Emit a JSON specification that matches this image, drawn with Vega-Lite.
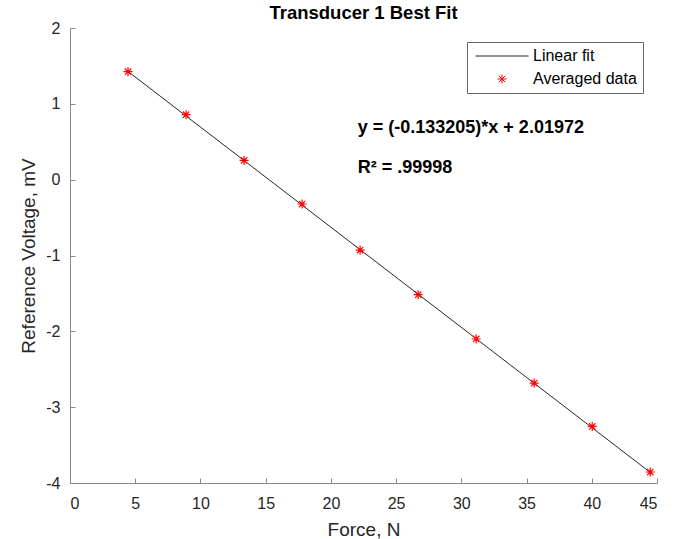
{
  "$schema": "https://vega.github.io/schema/vega-lite/v6.json",
  "width": 587,
  "height": 455,
  "autosize": "none",
  "padding": {"left": 70, "top": 28, "right": 16, "bottom": 56},
  "background": "white",
  "config": {
    "view": {"stroke": null},
    "font": "Liberation Sans",
    "axis": {
      "domainColor": "#888888",
      "domainWidth": 1,
      "tickColor": "#888888",
      "tickSize": -5,
      "labelColor": "#262626",
      "labelFontSize": 16,
      "labelFont": "Liberation Sans",
      "titleFont": "Liberation Sans",
      "titleFontSize": 19,
      "titleFontWeight": "normal",
      "titleColor": "#262626",
      "grid": false
    }
  },
  "title": {
    "text": "Transducer 1 Best Fit",
    "font": "Liberation Sans",
    "fontSize": 18.5,
    "fontWeight": "bold",
    "color": "#000000",
    "offset": -2
  },
  "datasets": {
    "avg": [
      {"force": 4.448, "voltage": 1.424, "series": "Averaged data"},
      {"force": 8.896, "voltage": 0.857, "series": "Averaged data"},
      {"force": 13.345, "voltage": 0.254, "series": "Averaged data"},
      {"force": 17.793, "voltage": -0.321, "series": "Averaged data"},
      {"force": 22.241, "voltage": -0.928, "series": "Averaged data"},
      {"force": 26.689, "voltage": -1.517, "series": "Averaged data"},
      {"force": 31.138, "voltage": -2.101, "series": "Averaged data"},
      {"force": 35.586, "voltage": -2.682, "series": "Averaged data"},
      {"force": 40.034, "voltage": -3.254, "series": "Averaged data"},
      {"force": 44.482, "voltage": -3.855, "series": "Averaged data"}
    ],
    "fit": [
      {"force": 4.448, "voltage": 1.427, "series": "Linear fit"},
      {"force": 44.482, "voltage": -3.86, "series": "Linear fit"}
    ],
    "notes": [
      {"force": 22.06, "voltage": 0.685, "label": "y = (-0.133205)*x + 2.01972"},
      {"force": 22.06, "voltage": 0.158, "label": "R² = .99998"}
    ]
  },
  "encoding": {
    "x": {
      "field": "force",
      "type": "quantitative",
      "scale": {"domain": [0, 45], "nice": false, "zero": false},
      "axis": {"title": "Force, N", "values": [0, 5, 10, 15, 20, 25, 30, 35, 40, 45], "labelPadding": 17, "titlePadding": 9}
    },
    "y": {
      "field": "voltage",
      "type": "quantitative",
      "scale": {"domain": [-4, 2], "nice": false, "zero": false},
      "axis": {"title": "Reference Voltage, mV", "values": [-4, -3, -2, -1, 0, 1, 2], "labelExpr": "datum.value + ''", "labelPadding": 15, "titlePadding": 7}
    }
  },
  "layer": [
    {
      "data": {"name": "fit"},
      "mark": {"type": "line", "strokeWidth": 1},
      "encoding": {
        "color": {
          "field": "series",
          "type": "nominal",
          "scale": {"domain": ["Linear fit", "Averaged data"], "range": ["#262626", "#ff0000"]},
          "legend": {
            "title": null,
            "orient": "none",
            "legendX": 397,
            "legendY": 14,
            "direction": "vertical",
            "fillColor": "white",
            "strokeColor": "#666666",
            "padding": 6,
            "labelFont": "Liberation Sans",
            "labelFontSize": 16,
            "labelColor": "#000000",
            "symbolSize": 100,
            "symbolOffset": 21,
            "labelOffset": 23,
            "rowPadding": 7,
            "symbolStrokeWidth": 1,
            "symbolFillColor": "transparent",
            "encode": {
              "symbols": {
                "update": {
                  "shape": [
                    {"test": "datum.value === 'Linear fit'", "value": "M-5.3,0L5.3,0"},
                    {"value": "M0,-0.9L0,0.9M-0.9,0L0.9,0M-0.64,-0.64L0.64,0.64M-0.64,0.64L0.64,-0.64"}
                  ],
                  "stroke": [
                    {"test": "datum.value === 'Linear fit'", "value": "#262626"},
                    {"value": "#ff0000"}
                  ],
                  "fill": {"value": "transparent"},
                  "strokeWidth": {"value": 1},
                  "opacity": {"value": 1}
                }
              }
            }
          }
        }
      }
    },
    {
      "data": {"name": "avg"},
      "mark": {
        "type": "point",
        "filled": false,
        "size": 100,
        "strokeWidth": 1.2,
        "opacity": 1,
        "shape": "M0,-0.9L0,0.9M-0.9,0L0.9,0M-0.64,-0.64L0.64,0.64M-0.64,0.64L0.64,-0.64"
      },
      "encoding": {
        "color": {"field": "series", "type": "nominal"}
      }
    },
    {
      "data": {"name": "notes"},
      "mark": {
        "type": "text",
        "align": "left",
        "baseline": "middle",
        "font": "Liberation Sans",
        "fontSize": 18,
        "fontWeight": "bold",
        "color": "#000000"
      },
      "encoding": {
        "text": {"field": "label", "type": "nominal"}
      }
    }
  ]
}
